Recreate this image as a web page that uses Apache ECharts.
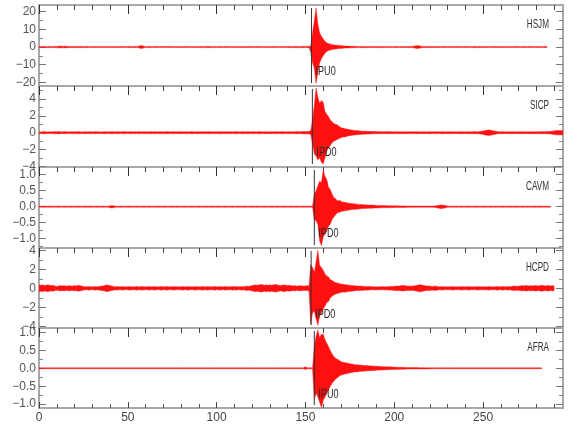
<!DOCTYPE html>
<html><head><meta charset="utf-8">
<script src="https://cdn.jsdelivr.net/npm/echarts@6/dist/echarts.min.js"></script>
<style>html,body{margin:0;padding:0;background:#fff}#c{width:580px;height:440px}</style>
</head><body><div id="c"></div>
<script>
// ---------- DATA ----------
const stations = ['HSJM', 'SICP', 'CAVM', 'HCPD', 'AFRA'];
const pickLabels = ['IPU0', 'IPD0', 'IPD0', 'IPD0', 'IPU0'];
const pickTimes = [153.4, 153.9, 155.0, 153.2, 155.0];
const xTickLabels = [0, 50, 100, 150, 200, 250];
const xMinorTicks = [10,20,30,40,60,70,80,90,110,120,130,140,160,170,180,190,210,220,230,240,260,270,280,290];
const eventStart = 150; // seconds where the per-second event peaks (up/dn) begin; pre arrays start at 0

const hsjmTicks = [-20, -10, 0, 10, 20];
const hsjmMinor = [-15, -5, 5, 15];
const sicpTicks = [-4, -2, 0, 2, 4];
const sicpMinor = [-3, -1, 1, 3, 5];
const cavmTicks = [-1, -0.5, 0, 0.5, 1];
const cavmMinor = [-1.25, -0.75, -0.25, 0.25, 0.75];
const hcpdTicks = [-4, -2, 0, 2, 4];
const hcpdMinor = [-3, -1, 1, 3];
const afraTicks = [-1, -0.5, 0, 0.5, 1];
const afraMinor = [-0.75, -0.25, 0.25, 0.75];

// per-second peak amplitudes
const hsjmPre = [
.3,.35,.3,.3,.35,.3,.35,.3,.3,.35, .35,.45,.5,.45,.45,.5,.35,.35,.3,.35, .3,.35,.3,.3,.35,.3,.3,.35,.3,.3,
.3,.35,.3,.3,.3,.35,.3,.3,.35,.3, .3,.3,.35,.3,.3,.3,.35,.3,.3,.3, .3,.35,.3,.3,.35,.3,.45,.7,.9,.45,
.3,.3,.35,.3,.3,.3,.35,.3,.3,.3, .3,.3,.3,.35,.3,.3,.3,.3,.35,.3, .3,.3,.35,.3,.3,.3,.3,.35,.3,.3,
.3,.35,.3,.3,.3,.45,.35,.3,.3,.3, .3,.3,.35,.3,.3,.35,.3,.3,.3,.3, .35,.3,.3,.3,.35,.3,.3,.3,.35,.3,
.3,.3,.3,.35,.3,.3,.3,.3,.35,.3, .3,.3,.35,.3,.3,.3,.3,.35,.3,.3, .3,.35,.3,.3,.35,.35,.3,.35,.35,.45];
const hsjmUp = [
.35,.45,.35,.6,8,15,22,13,8,6, 4.5,3.2,2.4,2,1.6,1.4,1.2,1.1,1,.9, .8,.7,.6,.6,.5,.5,.45,.4,.4,.35,
.35,.35,.3,.35,.3,.35,.3,.3,.35,.3, .3,.35,.3,.3,.3,.35,.3,.3,.3,.35, .3,.3,.35,.3,.3,.3,.35,.3,.3,.35];
const hsjmDn = [
.3,.35,.35,3,9,12,20.5,14.5,9,6.5, 5,3.5,2.6,2,1.7,1.4,1.2,1.1,1,.9, .8,.7,.6,.6,.5,.5,.45,.4,.4,.35,
.3,.35,.35,.3,.35,.3,.3,.35,.3,.3, .35,.3,.3,.35,.3,.3,.3,.35,.3,.3, .3,.35,.3,.3,.35,.3,.3,.3,.35,.3];
const hsjmPost = [
.35,.45,.7,.9,.7,.45,.35,.3,.35,.3, .3,.35,.3,.3,.35,.3,.3,.3,.35,.3, .3,.3,.35,.3,.3,.3,.35,.3,.3,.3,
.35,.3,.3,.3,.3,.35,.3,.3,.35,.3, .3,.3,.35,.3,.3,.3,.3,.35,.3,.3, .3,.35,.3,.3,.3,.35,.3,.3,.3,.35,
.3,.3,.3,.35,.3,.3,.35,.3,.3,.3, .3,.35,.3,.3,.3,.35,.3];

const sicpPre = [
.11,.09,.11,.13,.11,.09,.11,.1,.11,.13, .11,.15,.11,.1,.11,.13,.09,.11,.1,.12, .11,.1,.13,.11,.09,.11,.12,.1,.11,.11,
.1,.11,.13,.1,.11,.09,.11,.12,.11,.1, .11,.13,.11,.1,.11,.12,.1,.11,.13,.11, .1,.11,.12,.1,.11,.1,.13,.11,.1,.12,
.11,.1,.11,.13,.1,.11,.11,.1,.12,.11, .1,.11,.13,.11,.1,.11,.12,.1,.11,.11, .11,.1,.11,.12,.1,.11,.13,.11,.1,.11,
.11,.12,.1,.11,.1,.11,.13,.11,.1,.11, .1,.11,.12,.11,.1,.11,.1,.12,.11,.1, .11,.13,.11,.1,.11,.12,.1,.11,.11,.1,
.11,.12,.1,.11,.13,.11,.1,.11,.12,.1, .11,.11,.1,.12,.11,.1,.11,.13,.11,.1, .11,.12,.1,.11,.11,.13,.12,.11,.13,.15];
const sicpUp = [
.15,.13,.15,.25,1.5,3.3,5.3,4.2,3.5,3.8, 3.6,2.5,2.2,1.9,1.5,1.3,1.1,1,.9,.75, .6,.55,.5,.45,.4,.36,.33,.3,.27,.25,
.22,.2,.18,.19,.17,.16,.15,.16,.14,.13, .13,.12,.13,.11,.12,.11,.13,.11,.12,.11, .11,.12,.11,.1,.11,.12,.11,.1,.11,.12];
const sicpDn = [
.13,.15,.13,.25,1.3,2.5,2.8,3.2,3,3.5, 3.7,3,2.2,1.8,1.5,1.2,1,.9,.8,.7, .6,.5,.5,.45,.4,.35,.32,.28,.26,.24,
.22,.2,.18,.17,.17,.15,.15,.15,.13,.13, .12,.13,.11,.12,.11,.12,.11,.13,.11,.12, .11,.1,.12,.11,.11,.1,.12,.11,.11,.1];
const sicpPost = [
.11,.1,.11,.12,.11,.1,.11,.11,.1,.11, .12,.11,.1,.11,.11,.1,.11,.12,.11,.1, .11,.11,.12,.1,.11,.1,.11,.12,.11,.11,
.1,.11,.12,.11,.11,.13,.11,.12,.14,.16, .2,.26,.3,.33,.31,.27,.22,.17,.13,.11, .11,.12,.11,.1,.11,.11,.12,.11,.1,.11,
.11,.12,.11,.11,.1,.12,.11,.11,.12,.11, .11,.12,.11,.13,.11,.12,.14,.13,.16,.18, .22,.25,.27,.25,.27,.22];

const cavmPre = [
.02,.015,.015,.02,.015,.015,.02,.015,.015,.015, .015,.02,.015,.015,.015,.02,.015,.015,.02,.015, .015,.015,.02,.015,.015,.015,.02,.015,.015,.02,
.015,.015,.015,.02,.015,.015,.02,.015,.015,.015, .03,.04,.03,.02,.015,.015,.02,.015,.015,.015, .015,.02,.015,.015,.015,.02,.015,.015,.015,.02,
.015,.015,.02,.015,.015,.015,.015,.02,.015,.015, .015,.02,.015,.015,.015,.02,.015,.015,.02,.015, .015,.015,.02,.015,.015,.015,.02,.015,.015,.015,
.02,.015,.015,.015,.02,.015,.015,.02,.015,.015, .015,.02,.015,.015,.015,.02,.015,.015,.015,.02, .015,.015,.02,.015,.015,.015,.02,.015,.015,.015,
.02,.015,.015,.02,.015,.015,.015,.02,.015,.015, .015,.02,.015,.015,.02,.015,.015,.015,.02,.015, .015,.015,.02,.015,.015,.02,.015,.015,.015,.02];
const cavmUp = [
.015,.015,.02,.015,.02,.39,.5,.65,.8,.75, 1.15,.95,.85,.6,.54,.4,.28,.25,.18,.2, .17,.15,.14,.13,.11,.11,.1,.09,.09,.08,
.07,.07,.065,.06,.06,.055,.05,.05,.05,.045, .04,.04,.04,.04,.035,.035,.03,.03,.03,.03, .03,.028,.028,.025,.025,.025,.022,.022,.022,.02];
const cavmDn = [
.015,.015,.015,.02,.015,.4,.45,.55,1.07,1.22, .95,.85,.76,.6,.55,.4,.32,.25,.19,.18, .15,.14,.13,.12,.11,.1,.09,.09,.08,.08,
.07,.065,.06,.06,.055,.05,.05,.045,.045,.04, .04,.04,.035,.035,.03,.035,.03,.03,.028,.03, .028,.025,.025,.025,.022,.022,.022,.02,.02,.02];
const cavmPost = [
.02,.02,.02,.018,.02,.018,.018,.02,.018,.018, .018,.018,.02,.025,.035,.045,.055,.055,.045,.035, .02,.015,.018,.015,.015,.018,.015,.015,.018,.015,
.015,.015,.018,.015,.015,.015,.018,.015,.015,.015, .018,.015,.015,.015,.018,.015,.015,.018,.015,.015, .015,.018,.015,.015,.015,.018,.015,.015,.018,.015,
.015,.015,.018,.015,.015,.018,.015,.015,.015,.018, .015,.015,.018,.015,.015,.015,.018,.015,.015];

const hcpdPre = [
.36,.32,.36,.28,.32,.36,.32,.28,.32,.24, .2,.24,.28,.24,.28,.24,.24,.28,.24,.24, .28,.24,.32,.28,.24,.2,.16,.16,.2,.16,
.16,.16,.2,.16,.2,.24,.24,.28,.36,.32, .28,.24,.2,.16,.2,.16,.16,.2,.16,.16, .16,.2,.16,.16,.16,.2,.16,.16,.2,.16,
.16,.16,.2,.16,.16,.2,.16,.16,.16,.2, .16,.16,.2,.16,.16,.16,.2,.16,.16,.16, .16,.2,.16,.16,.2,.16,.16,.16,.2,.16,
.16,.16,.2,.16,.16,.2,.16,.16,.16,.2, .16,.16,.2,.16,.16,.2,.16,.16,.16,.2, .16,.2,.16,.16,.2,.16,.2,.24,.2,.24,
.28,.32,.36,.32,.36,.4,.36,.32,.36,.32, .36,.32,.36,.4,.36,.32,.28,.32,.36,.32, .28,.32,.28,.24,.28,.24,.24,.28,.24,.24];
const hcpdUp = [
.24,.28,.24,2.5,2.2,1.7,2.8,4,2.4,2.2, 1.9,1.5,1.3,1.2,.9,.85,.7,.6,.55,.5, .45,.42,.4,.38,.35,.32,.3,.28,.26,.25,
.24,.23,.22,.2,.2,.2,.18,.18,.16,.16, .16,.16,.16,.18,.16,.16,.16,.18,.2,.2, .22,.24,.24,.24,.28,.3,.28,.24,.24,.22];
const hcpdDn = [
.24,.24,.28,3.8,2.6,2.4,3.2,3.9,2.9,2.6, 2.2,1.9,1.5,1.4,1,.85,.7,.6,.55,.5, .45,.4,.42,.38,.35,.33,.3,.28,.26,.24,
.24,.22,.22,.2,.18,.2,.18,.16,.16,.18, .16,.18,.16,.16,.16,.18,.16,.2,.18,.2, .22,.24,.26,.24,.28,.28,.26,.24,.22,.24];
const hcpdPost = [
.24,.24,.28,.32,.36,.36,.32,.28,.24,.24, .24,.2,.2,.24,.2,.16,.16,.2,.16,.16, .16,.16,.16,.2,.16,.16,.16,.16,.2,.16,
.16,.16,.2,.16,.16,.16,.16,.2,.16,.16, .16,.16,.16,.2,.16,.16,.16,.16,.2,.16, .16,.2,.16,.16,.2,.16,.2,.24,.24,.2,
.24,.24,.28,.24,.28,.28,.24,.28,.24,.28, .28,.24,.28,.32,.28,.24,.28,.28,.24,.28, .24];

const afraPre = [
.012,.015,.012,.012,.015,.012,.012,.015,.012,.012, .015,.012,.012,.015,.012,.012,.012,.015,.012,.012, .012,.015,.012,.012,.015,.012,.012,.012,.015,.012,
.012,.012,.015,.012,.012,.015,.012,.012,.012,.015, .012,.015,.012,.012,.012,.015,.012,.012,.015,.012, .012,.012,.015,.012,.012,.012,.015,.012,.012,.015,
.012,.015,.012,.012,.015,.012,.012,.012,.015,.012, .012,.012,.015,.012,.012,.015,.012,.012,.012,.015, .012,.015,.012,.012,.012,.015,.012,.012,.015,.012,
.012,.012,.015,.012,.012,.012,.015,.012,.012,.015, .012,.015,.012,.012,.015,.012,.012,.012,.015,.012, .012,.012,.015,.012,.012,.015,.012,.012,.012,.015,
.012,.015,.012,.012,.012,.015,.012,.012,.015,.012, .012,.012,.015,.012,.012,.015,.012,.012,.012,.015, .012,.015,.012,.012,.015,.012,.012,.015,.012,.015];
const afraUp = [
.045,.015,.015,.015,.015,.6,.9,1.07,.85,.95, .95,.8,.7,.6,.5,.4,.33,.28,.25,.22, .19,.17,.16,.15,.14,.13,.12,.11,.1,.1,
.095,.09,.085,.08,.075,.075,.07,.065,.065,.06, .055,.055,.05,.05,.045,.045,.04,.04,.04,.035, .035,.032,.03,.03,.028,.028,.025,.025,.022,.022];
const afraDn = [
.035,.015,.015,.015,.015,.85,.7,.8,.95,1.09, .9,.8,.7,.6,.5,.42,.36,.3,.26,.22, .19,.18,.16,.15,.14,.13,.12,.11,.1,.1,
.09,.09,.085,.08,.075,.07,.07,.065,.06,.06, .055,.05,.05,.05,.045,.04,.04,.04,.035,.035, .032,.03,.03,.028,.028,.025,.025,.022,.022,.02];
const afraPost = [
.022,.02,.02,.02,.018,.018,.018,.018,.016,.016, .016,.015,.015,.015,.015,.015,.012,.015,.012,.012, .012,.015,.012,.012,.015,.012,.012,.015,.012,.012,
.015,.012,.012,.012,.015,.012,.012,.015,.012,.012, .012,.015,.012,.012,.015,.012,.012,.012,.015,.012, .012,.015,.012,.012,.012,.015,.012,.012,.015,.012,
.012,.012,.015,.012,.012,.015,.012,.012,.012,.015, .012,.015,.012,.012];

// ---------- CHART ----------
const traces = [
  [hsjmPre, hsjmUp, hsjmDn, hsjmPost],
  [sicpPre, sicpUp, sicpDn, sicpPost],
  [cavmPre, cavmUp, cavmDn, cavmPost],
  [hcpdPre, hcpdUp, hcpdDn, hcpdPost],
  [afraPre, afraUp, afraDn, afraPost]
];
const majorTicks = [hsjmTicks, sicpTicks, cavmTicks, hcpdTicks, afraTicks];
const minorTicks = [hsjmMinor, sicpMinor, cavmMinor, hcpdMinor, afraMinor];
const labelDecimals = [0, 0, 1, 0, 1];
const yMins = [-22, -4.06, -1.29, -4.18, -1.107];
const yMaxs = [23.7, 5.53, 1.24, 4.24, 1.124];
const xMax = 295;

const tops = [5, 86, 167, 248, 328];
const heights = [81, 81, 81, 80, 80];
const FONT = '"Liberation Sans",Arial,sans-serif';

// envelope items: [time, upper peak, lower peak]
function buildEnvelope(pre, up, dn, post) {
  const pts = [];
  pre.forEach((a, i) => pts.push([i, a, -a]));
  up.forEach((a, i) => pts.push([eventStart + i, a, -dn[i]]));
  const p0 = eventStart + up.length;
  post.forEach((a, i) => pts.push([p0 + i, a, -a]));
  return pts;
}

function renderTrace(params, api) {
  if (params.dataIndexInside !== 0) return null;
  const n = params.dataInsideLength;
  const upper = [], lower = [];
  for (let k = 0; k < n; k++) {
    const t = api.value(0, k);
    upper.push(api.coord([t, api.value(1, k)]));
    lower.push(api.coord([t, api.value(2, k)]));
  }
  return { type: 'polygon', shape: { points: upper.concat(lower.reverse()) },
    style: { fill: '#ff1010', stroke: '#ff2020', lineWidth: 0.45 } };
}

const grid = [], xAxis = [], yAxis = [], series = [];
const GRAY = '#a8a8a8';
for (let i = 0; i < 5; i++) {
  grid.push({ left: 39, right: 17, top: tops[i], height: heights[i], containLabel: false, outerBoundsMode: 'none' });
  const xBase = { gridIndex: i, type: 'value', min: 0, max: xMax, splitLine: { show: false }, axisLabel: { show: false } };
  xAxis.push(Object.assign({}, xBase, { position: 'top',
    axisLine: { show: true, onZero: false, lineStyle: { color: GRAY, width: 2 } },
    axisTick: { show: true, inside: true, length: 9, customValues: xTickLabels, lineStyle: { color: '#333', width: 1 } } }));
  xAxis.push(Object.assign({}, xBase, { position: 'top',
    axisLine: { show: false, onZero: false },
    axisTick: { show: true, inside: true, length: 5, customValues: xMinorTicks, lineStyle: { color: '#444', width: 1 } } }));
  const dec = labelDecimals[i];
  const yBase = { gridIndex: i, type: 'value', min: yMins[i], max: yMaxs[i], splitLine: { show: false } };
  yAxis.push(Object.assign({}, yBase, { position: 'left',
    axisLine: { show: true, onZero: false, lineStyle: { color: GRAY, width: 2 } },
    axisTick: { show: true, inside: true, length: 7, customValues: majorTicks[i], lineStyle: { color: '#777' } },
    axisLabel: { show: true, customValues: majorTicks[i], margin: 3, fontSize: 12, fontFamily: FONT, color: '#555',
      formatter: v => v.toFixed(dec).replace('-', '\u2212') } }));
  yAxis.push(Object.assign({}, yBase, { position: 'left',
    axisLine: { show: false, onZero: false },
    axisTick: { show: true, inside: true, length: 4, customValues: minorTicks[i], lineStyle: { color: '#888' } },
    axisLabel: { show: false } }));
  yAxis.push(Object.assign({}, yBase, { position: 'right',
    axisLine: { show: true, onZero: false, lineStyle: { color: GRAY, width: 2 } },
    axisTick: { show: true, inside: true, length: 7, customValues: majorTicks[i], lineStyle: { color: '#777' } },
    axisLabel: { show: false } }));
  yAxis.push(Object.assign({}, yBase, { position: 'right',
    axisLine: { show: false, onZero: false },
    axisTick: { show: true, inside: true, length: 4, customValues: minorTicks[i], lineStyle: { color: '#888' } },
    axisLabel: { show: false } }));

  const tr = traces[i];
  series.push({ type: 'custom', xAxisIndex: 2 * i, yAxisIndex: 4 * i, data: buildEnvelope(tr[0], tr[1], tr[2], tr[3]),
    renderItem: renderTrace, clip: true, z: 2, silent: true });
  const range = yMaxs[i] - yMins[i];
  const inset = 3 / heights[i] * range;
  series.push({ type: 'line', xAxisIndex: 2 * i, yAxisIndex: 4 * i,
    data: [[pickTimes[i], yMaxs[i] - inset], [pickTimes[i], yMins[i] + inset]],
    showSymbol: false, symbol: 'none', lineStyle: { color: '#333', width: 1 }, z: 4, silent: true });
  // pick label, placed through the axes' scales, drawn above the trace
  const labelY = yMaxs[i] - (66 / heights[i]) * range;
  const labelText = pickLabels[i];
  series.push({ type: 'custom', xAxisIndex: 2 * i, yAxisIndex: 4 * i, data: [[pickTimes[i], labelY]], z: 6, silent: true,
    clip: false,
    renderItem: (params, api) => {
      const p = api.coord([api.value(0), api.value(1)]);
      return { type: 'text', x: p[0] + 4, y: p[1], scaleX: 0.7,
        style: { text: labelText, fill: '#2a2a2a', font: '13px ' + FONT, align: 'left', verticalAlign: 'middle' } };
    } });
}
// bottom axis of last panel
xAxis.push({ gridIndex: 4, type: 'value', min: 0, max: xMax, position: 'bottom', splitLine: { show: false },
  axisLine: { show: true, onZero: false, lineStyle: { color: GRAY, width: 2 } },
  axisTick: { show: true, inside: true, length: 6, customValues: xTickLabels, lineStyle: { color: '#444' } },
  axisLabel: { show: true, customValues: xTickLabels, margin: 4, fontSize: 12, fontFamily: FONT, color: '#444' } });
xAxis.push({ gridIndex: 4, type: 'value', min: 0, max: xMax, position: 'bottom', splitLine: { show: false },
  axisLine: { show: false, onZero: false },
  axisTick: { show: true, inside: true, length: 4, customValues: xMinorTicks, lineStyle: { color: '#555' } },
  axisLabel: { show: false } });

const graphic = stations.map((s, i) => ({ type: 'text', x: 549, y: tops[i] + 20, scaleX: 0.68, z: 10,
  style: { text: s, fill: '#333', font: '12px ' + FONT, align: 'right', verticalAlign: 'middle' } }));

const chart = echarts.init(document.getElementById('c'), null, { renderer: 'canvas' });
chart.setOption({ backgroundColor: '#fff', animation: false, grid, xAxis, yAxis, series, graphic });
</script></body></html>
